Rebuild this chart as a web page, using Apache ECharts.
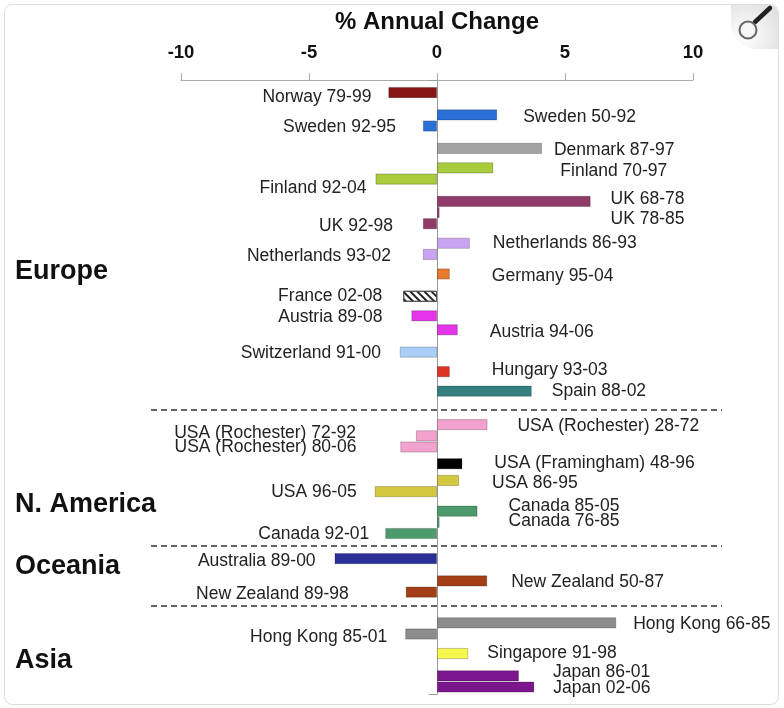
<!DOCTYPE html>
<html>
<head>
<meta charset="utf-8">
<script src="https://cdn.jsdelivr.net/npm/echarts@6/dist/echarts.min.js"></script>
<style>
  html, body { margin: 0; padding: 0; background: #fff; }
  #chart { width: 784px; height: 708px; }
</style>
</head>
<body>
<div id="chart"></div>
<script>
// ---------- DATA ----------
const gap = n => Array(n).fill('');   // blank category rows (spacers)

const categories = [
  ...gap(4), 'Norway 79-99',
  ...gap(7), 'Sweden 50-92',
  ...gap(3), 'Sweden 92-95',
  ...gap(7), 'Denmark 87-97',
  ...gap(6), 'Finland 70-97',
  ...gap(3), 'Finland 92-04',
  ...gap(7), 'UK 68-78',
  ...gap(3), 'UK 78-85',
  ...gap(3), 'UK 92-98',
  ...gap(6), 'Netherlands 86-93',
  ...gap(3), 'Netherlands 93-02',
  ...gap(6), 'Germany 95-04',
  ...gap(7), 'France 02-08',
  ...gap(6), 'Austria 89-08',
  ...gap(4), 'Austria 94-06',
  ...gap(7), 'Switzerland 91-00',
  ...gap(6), 'Hungary 93-03',
  ...gap(6), 'Spain 88-02',
  ...gap(11), 'USA (Rochester) 28-72',
  ...gap(3), 'USA (Rochester) 72-92',
  ...gap(3), 'USA (Rochester) 80-06',
  ...gap(5), 'USA (Framingham) 48-96',
  ...gap(5), 'USA 86-95',
  ...gap(3), 'USA 96-05',
  ...gap(6), 'Canada 85-05',
  ...gap(3), 'Canada 76-85',
  ...gap(3), 'Canada 92-01',
  ...gap(8), 'Australia 89-00',
  ...gap(7), 'New Zealand 50-87',
  ...gap(3), 'New Zealand 89-98',
  ...gap(10), 'Hong Kong 66-85',
  ...gap(3), 'Hong Kong 85-01',
  ...gap(6), 'Singapore 91-98',
  ...gap(7), 'Japan 86-01',
  ...gap(3), 'Japan 02-06',
  ...gap(2)
];

// % annual change, in the order of the named rows above
const values = [
  -1.9, 2.35, -0.55, 4.1, 2.2, -2.4, 6.0, 0.1, -0.55,
  1.28, -0.55, 0.5, -1.32, -1.0, 0.81, -1.45, 0.5, 3.7,
  1.97, -0.82, -1.43, 0.99, 0.86, -2.43, 1.58, 0.1, -2.02,
  -4.0, 1.96, -1.22, 7.0, -1.24, 1.22, 3.2, 3.8
];

const xTicks = [-10, -5, 0, 5, 10];
const regions = ['Europe', 'N. America', 'Oceania', 'Asia'];

// ---------- STYLE ----------
const barColors = [
  '#861616', '#2a6fd8', '#2a6fd8', '#a3a3a3', '#a8cc3c', '#a8cc3c', '#913b68', '#913b68', '#913b68',
  '#c9a3f2', '#c9a3f2', '#e8782e', 'hatch', '#e434e8', '#e434e8', '#a9cff7', '#e03324', '#348080',
  '#f2a2cc', '#f2a2cc', '#f2a2cc', '#000000', '#d4c83e', '#d4c83e', '#4c9a6c', '#4c9a6c', '#4c9a6c',
  '#2b2f99', '#a33e16', '#a33e16', '#8c8c8c', '#8c8c8c', '#f8f84c', '#7c168c', '#7c168c'
];
// [distance from bar end, vertical nudge] for each label
const labelLayout = [
  [17, 5], [26, 2], [27, 1], [12, 1.5], [67, 3], [9, 9], [20, -2], [171, 7], [30, 2],
  [23, 0], [32, 2], [42, 2], [21, 0], [29, 1], [32, 2], [19, 1.5], [42, -1], [20, 0],
  [30, 1.5], [60, -3], [44, 0], [32, -1], [33, 3], [18, 1], [31, -5], [69, -1], [16, 1],
  [19, 3], [24, 1.5], [57, 2], [17, 1.5], [18, 2.7], [19, 0], [34, -4], [19, 1]
];
const regionY = [272, 505, 567, 661];
const separatorY = [410, 546, 606];

const FONT = '"Liberation Sans", Arial, Helvetica, sans-serif';

let k = 0;
const seriesData = categories.map(c => {
  if (!c) return '-';
  const i = k++;
  const v = values[i];
  const col = barColors[i];
  return {
    value: v,
    itemStyle: col === 'hatch'
      ? { color: '#ffffff', borderColor: '#555', borderWidth: 1,
          decal: { symbol: 'rect', symbolSize: 1, dashArrayX: [1, 0], dashArrayY: [2, 2.5],
                   rotation: Math.PI / 4, color: '#222' } }
      : { color: col, borderColor: 'rgba(0,0,0,0.28)', borderWidth: 0.8 },
    label: {
      show: true,
      position: v < 0 ? 'left' : 'right',
      distance: labelLayout[i][0],
      offset: [0, labelLayout[i][1]]
    }
  };
});

const chart = echarts.init(document.getElementById('chart'), null, { renderer: 'canvas' });

const graphics = [
  { type: 'rect', z: -10, shape: { x: 4.5, y: 4.5, width: 774, height: 700, r: 8 },
    style: { fill: 'none', stroke: '#dddddd', lineWidth: 1 } },
  { type: 'rect', shape: { x: 731, y: 5, width: 47, height: 44, r: [0, 8, 0, 26] },
    style: { fill: new echarts.graphic.RadialGradient(0.3, 0.7, 0.9,
      [{ offset: 0, color: '#ffffff' }, { offset: 1, color: '#e0e0e0' }]) } },
  { type: 'line', shape: { x1: 755, y1: 22, x2: 770, y2: 8 },
    style: { stroke: '#222', lineWidth: 4.5, lineCap: 'round' } },
  { type: 'circle', shape: { cx: 748, cy: 30, r: 8.5 },
    style: { fill: '#f6f6f6', stroke: '#666', lineWidth: 2 } }
];
regions.forEach((r, i) => graphics.push({
  type: 'text', x: 15, y: regionY[i],
  style: { text: r, fontSize: 27, fontWeight: 'bold', fontFamily: FONT, fill: '#111', verticalAlign: 'middle' }
}));
separatorY.forEach(y => graphics.push({
  type: 'line', shape: { x1: 151, y1: y, x2: 722, y2: y },
  style: { stroke: '#333', lineWidth: 1.5, lineDash: [6, 4] }
}));

chart.setOption({
  animation: false,
  backgroundColor: '#fff',
  grid: { left: 181, right: 91, top: 80, bottom: 14, containLabel: false },
  xAxis: {
    type: 'value', position: 'top', min: -10, max: 10, interval: 5,
    name: '% Annual Change', nameLocation: 'middle', nameGap: 46,
    nameTextStyle: { fontSize: 24, fontWeight: 'bold', fontFamily: FONT, color: '#111' },
    axisLine: { show: true, lineStyle: { color: '#aaa', width: 1 } },
    axisTick: { show: true, length: 7, lineStyle: { color: '#aaa' } },
    axisLabel: { fontSize: 18.5, fontWeight: 'bold', fontFamily: FONT, color: '#111', margin: 18,
      formatter: v => xTicks.includes(v) ? String(v) : '' },
    splitLine: { show: false }
  },
  yAxis: {
    type: 'category', inverse: true, data: categories,
    axisLine: { show: true, onZero: true, lineStyle: { color: '#999' } },
    axisTick: { show: true, length: 8, interval: i => i === categories.length - 1, lineStyle: { color: '#999' } },
    axisLabel: { show: false },
    splitLine: { show: false }
  },
  series: [{
    type: 'bar',
    data: seriesData,
    barWidth: 11,
    label: { show: true, formatter: '{b}', fontSize: 17.5, fontFamily: FONT, color: '#222' },
    emphasis: { disabled: true }
  }],
  graphic: graphics
});
</script>
</body>
</html>
